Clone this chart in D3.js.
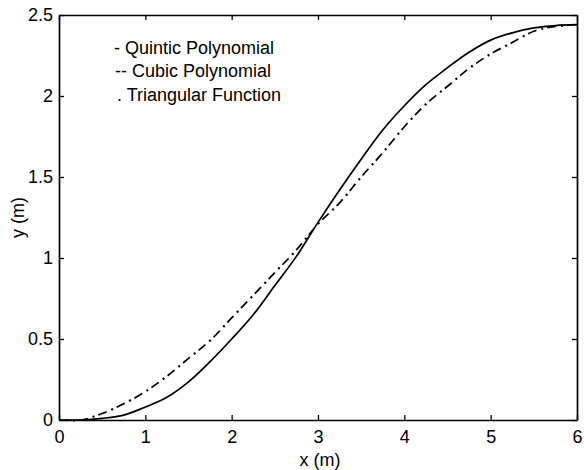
<!DOCTYPE html>
<html>
<head>
<meta charset="utf-8">
<script src="https://cdn.jsdelivr.net/npm/d3@7"></script>
<style>
  html, body { margin: 0; padding: 0; background: #fff; }
  svg { display: block; }
  text { font-family: "Liberation Sans", Arial, sans-serif; fill: #000; }
</style>
</head>
<body>
<svg id="chart" width="584" height="470"></svg>
<script>
// x positions (m) where each trajectory is sampled
const xValues = [0, 0.25, 0.5, 0.75, 1.0, 1.25, 1.5, 1.75, 2.0, 2.25, 2.5, 2.75, 3.0,
                 3.25, 3.5, 3.75, 4.0, 4.25, 4.5, 4.75, 5.0, 5.25, 5.5, 5.75, 6.0];

// lateral position y (m) for each path shape
const quinticY = [0, 0, 0.01, 0.03, 0.08, 0.14, 0.235, 0.36, 0.50, 0.65, 0.83, 1.01, 1.22,
                  1.42, 1.61, 1.79, 1.94, 2.07, 2.175, 2.27, 2.345, 2.39, 2.42, 2.435, 2.44];
const cubicY = [0, 0, 0.04, 0.10, 0.175, 0.27, 0.38, 0.49, 0.63, 0.77, 0.91, 1.05, 1.21,
                1.34, 1.50, 1.65, 1.81, 1.95, 2.06, 2.17, 2.26, 2.33, 2.40, 2.43, 2.44];
const triangularY = [0, 0, 0.04, 0.10, 0.175, 0.27, 0.38, 0.49, 0.63, 0.77, 0.91, 1.05, 1.21,
                     1.34, 1.50, 1.65, 1.81, 1.95, 2.06, 2.17, 2.26, 2.33, 2.40, 2.43, 2.44];

const xTicks = [0, 1, 2, 3, 4, 5, 6];
const yTicks = [0, 0.5, 1, 1.5, 2, 2.5];
const legendLabels = ["- Quintic Polynomial", "-- Cubic Polynomial", ". Triangular Function"];

const svg = d3.select("#chart");
const plotLeft = 59, plotRight = 577, plotTop = 15, plotBottom = 420;

const x = d3.scaleLinear().domain([0, 6]).range([plotLeft, plotRight]);
const y = d3.scaleLinear().domain([0, 2.5]).range([plotBottom, plotTop]);

const fmt = d => (d === 0 ? "0" : String(d));

// axes with inward ticks on all four sides
const tickLen = 5;
svg.append("g").attr("transform", `translate(0,${plotBottom})`)
  .call(d3.axisBottom(x).tickValues(xTicks).tickSizeInner(-tickLen).tickSizeOuter(0).tickPadding(10).tickFormat(fmt));
svg.append("g").attr("transform", `translate(0,${plotTop})`)
  .call(d3.axisTop(x).tickValues(xTicks).tickSizeInner(-tickLen).tickSizeOuter(0).tickFormat(""));
svg.append("g").attr("transform", `translate(${plotLeft},0)`)
  .call(d3.axisLeft(y).tickValues(yTicks).tickSizeInner(-tickLen).tickSizeOuter(0).tickPadding(6).tickFormat(fmt));
svg.append("g").attr("transform", `translate(${plotRight},0)`)
  .call(d3.axisRight(y).tickValues(yTicks).tickSizeInner(-tickLen).tickSizeOuter(0).tickFormat(""));

svg.selectAll(".domain").attr("stroke", "#000").attr("stroke-width", 1.7);
svg.selectAll(".tick line").attr("stroke", "#000").attr("stroke-width", 1.3);
svg.selectAll(".tick text").style("font-size", "18px").style("font-family", "\"Liberation Sans\", Arial, sans-serif");

// axis titles
svg.append("text").attr("x", 320).attr("y", 466)
  .attr("text-anchor", "middle").style("font-size", "18px").text("x  (m)");
svg.append("text").attr("transform", `translate(24,${(plotTop + plotBottom) / 2}) rotate(-90)`)
  .attr("text-anchor", "middle").style("font-size", "18px").text("y  (m)");

const line = d3.line().x((d, i) => x(xValues[i])).y(d => y(d)).curve(d3.curveCatmullRom);

svg.append("path").datum(quinticY).attr("d", line)
  .attr("fill", "none").attr("stroke", "#000").attr("stroke-width", 1.7);
svg.append("path").datum(cubicY).attr("d", line)
  .attr("fill", "none").attr("stroke", "#000").attr("stroke-width", 1.7)
  .attr("stroke-dasharray", "9,11");
svg.append("path").datum(triangularY).attr("d", line)
  .attr("fill", "none").attr("stroke", "#000").attr("stroke-width", 2.2)
  .attr("stroke-dasharray", "2,18").attr("stroke-dashoffset", 6);

// legend
svg.selectAll(".legend").data(legendLabels).enter().append("text")
  .attr("class", "legend")
  .attr("x", (d, i) => [114, 115, 117][i])
  .attr("y", (d, i) => [54, 77, 101][i])
  .style("font-size", "18px")
  .text(d => d);
</script>
</body>
</html>
